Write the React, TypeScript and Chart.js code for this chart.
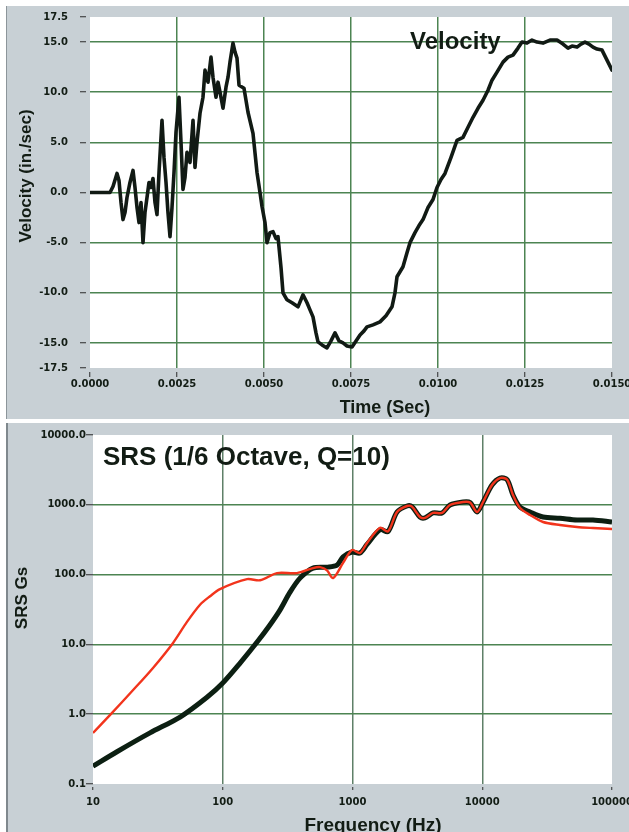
import React, { useEffect, useRef } from "react";
import { Chart, registerables } from "chart.js";

Chart.register(...registerables);

// ---------------- Top chart: velocity vs time ----------------
const TIME_S = [
  0, 0.000575, 0.000661, 0.000776, 0.000833, 0.000891, 0.000948, 0.001006, 0.001063, 0.001149,
  0.001236, 0.001293, 0.001351, 0.001408, 0.001466, 0.001523, 0.00158, 0.001638, 0.001695, 0.001753,
  0.00181, 0.001868, 0.001925, 0.001983, 0.002069, 0.002126, 0.002184, 0.002241, 0.002299, 0.002356,
  0.002414, 0.002471, 0.002557, 0.002615, 0.002672, 0.00273, 0.002787, 0.002874, 0.00296, 0.003017,
  0.003075, 0.003161, 0.003247, 0.003305, 0.003391, 0.003477, 0.003534, 0.003621, 0.003678, 0.003736,
  0.003822, 0.003908, 0.003966, 0.004023, 0.004109, 0.004167, 0.004224, 0.004282, 0.004425, 0.00454,
  0.004684, 0.004799, 0.004885, 0.004943, 0.005029, 0.005086, 0.005172, 0.005259, 0.005345, 0.005402,
  0.005489, 0.005546, 0.005661, 0.005805, 0.005977, 0.006121, 0.006236, 0.006322, 0.006408, 0.006494,
  0.006552, 0.006667, 0.00681, 0.006925, 0.00704, 0.007155, 0.00727, 0.007385, 0.007529, 0.007644,
  0.007759, 0.007874, 0.00796, 0.008132, 0.008333, 0.008506, 0.008678, 0.008764, 0.008822, 0.008994,
  0.009109, 0.009195, 0.009339, 0.009454, 0.009569, 0.009713, 0.009856, 0.009971, 0.010086, 0.010201,
  0.010374, 0.010546, 0.010718, 0.010862, 0.011006, 0.011149, 0.011293, 0.011437, 0.011552, 0.011695,
  0.011868, 0.012011, 0.012155, 0.012299, 0.012414, 0.012557, 0.012701, 0.012845, 0.013017, 0.013218,
  0.01342, 0.013592, 0.013736, 0.013851, 0.013994, 0.014109, 0.014224, 0.014339, 0.014454, 0.014569,
  0.014713, 0.014799, 0.014856, 0.014943, 0.015,
];
const VELOCITY_IPS = [
  0, 0, 0.6, 1.9, 1.2, -1.0, -2.7, -2.0, -0.5, 1.0,
  2.2, 0.5, -1.5, -3.0, -1.0, -5.0, -2.0, -0.5, 1.0, 0.5,
  1.4, -1.0, -2.2, 2.0, 7.2, 3.5, 1.0, -2.0, -4.4, -1.5,
  2.0, 6.0, 9.5, 5.0, 0.3, 1.5, 4.0, 3.0, 7.2, 2.5,
  5.0, 7.9, 9.5, 12.2, 11.0, 13.5, 11.5, 9.5, 11.0, 10.0,
  8.4, 10.5, 11.5, 13.0, 14.9, 14.0, 13.4, 10.7, 10.4, 8.0,
  5.9, 2.0, 0.0, -1.4, -3.0, -5.0, -4.0, -3.9, -4.6, -4.4,
  -7.5, -10.0, -10.7, -11.0, -11.4, -10.2, -11.0, -11.7, -12.4, -14.0,
  -14.9, -15.2, -15.5, -14.8, -14.0, -14.8, -15.0, -15.3, -15.4, -14.8,
  -14.2, -13.8, -13.4, -13.2, -12.9, -12.3, -11.4, -10.0, -8.4, -7.4,
  -6.0, -5.0, -4.0, -3.3, -2.7, -1.5, -0.7, 0.5, 1.3, 1.9,
  3.5, 5.2, 5.5, 6.5, 7.5, 8.4, 9.2, 10.2, 11.2, 12.0,
  13.0, 13.5, 13.7, 14.4, 15.0, 14.9, 15.2, 15.0, 14.9, 15.2,
  15.2, 14.8, 14.4, 14.6, 14.5, 14.8, 15.0, 14.8, 14.5, 14.3,
  14.2, 13.6, 13.2, 12.6, 12.2,
];
const VEL_Y_TICKS = [-17.5, -15, -10, -5, 0, 5, 10, 15, 17.5];
const TIME_X_TICKS = [0, 0.0025, 0.005, 0.0075, 0.01, 0.0125, 0.015];

// ---------------- Bottom chart: SRS ----------------
const FREQ_BLACK_HZ = [
  10, 15.3, 27.5, 46.9, 75.6, 100, 136, 184, 231, 276,
  330, 394, 496, 636, 760, 846, 991, 1142, 1294, 1630,
  1879, 2204, 2632, 2875, 3312, 3620, 4170, 4895, 5640, 7110,
  8050, 9120, 10150, 11890, 13710, 15520, 17260, 19550, 23350, 29400,
  39720, 53700, 71400, 100000,
];
const SRS_BLACK_G = [
  0.18, 0.29, 0.54, 0.91, 1.75, 2.8, 5.4, 10.8, 19, 31,
  56, 89, 124, 128, 137, 180, 211, 204, 270, 440,
  415, 789, 961, 940, 668, 650, 764, 764, 993, 1097,
  1080, 789, 1097, 1923, 2420, 2300, 1380, 929, 789, 668,
  640, 605, 605, 567,
];
const FREQ_RED_HZ = [
  10, 13.5, 20.3, 29, 41.4, 53, 66.8, 79.8, 95.2, 154,
  194, 262, 373, 496, 562, 636, 708, 846, 991, 1142,
  1294, 1630, 1879, 2204, 2632, 2875, 3312, 3620, 4170, 4895,
  5640, 7110, 8050, 9120, 10150, 11890, 13710, 15520, 17260, 19550,
  23350, 29400, 39720, 53700, 71400, 100000,
];
const SRS_RED_G = [
  0.54, 0.97, 2.2, 4.6, 10.5, 21, 37, 49, 62, 86,
  83, 105, 105, 124, 128, 115, 89, 147, 225, 204,
  284, 470, 415, 789, 961, 940, 668, 650, 764, 764,
  993, 1097, 1080, 789, 1097, 1923, 2420, 2300, 1380, 900,
  715, 567, 513, 481, 465, 450,
];
const SRS_Y_TICKS = [0.1, 1, 10, 100, 1000, 10000];
const FREQ_X_TICKS = [10, 100, 1000, 10000, 100000];

// ---------------- Text ----------------
const VEL_Y_TITLE = "Velocity (in./sec)";
const TIME_TITLE = "Time (Sec)";
const VEL_LABEL = "Velocity";
const SRS_TITLE = "SRS (1/6 Octave, Q=10)";
const SRS_Y_TITLE = "SRS Gs";
const FREQ_TITLE = "Frequency (Hz)";

// ---------------- Styles ----------------
const PANEL = "#c8d0d5";
const GRID_GREEN = "#4d8452";
const GRID_GREY_GREEN = "#5f8068";
const TEXT = "#121c14";
const TICK_FONT = { family: "'DejaVu Sans', sans-serif", size: 10, weight: "bold" as const };
const TITLE_FAMILY = "'Liberation Sans', Arial, sans-serif";

const toPoints = (xs: number[], ys: number[]) => {
  const n = Math.min(xs.length, ys.length);
  const out: { x: number; y: number }[] = [];
  for (let i = 0; i < n; i++) out.push({ x: xs[i], y: ys[i] });
  return out;
};

const edgeAware = (ticks: number[], color: string) => (ctx: any) => {
  const v = ctx.tick ? ctx.tick.value : undefined;
  if (v === ticks[0] || v === ticks[ticks.length - 1]) return "rgba(0,0,0,0)";
  return color;
};

const plotBg = {
  id: "plotBg",
  beforeDraw(chart: any) {
    const { ctx, chartArea } = chart;
    ctx.save();
    ctx.fillStyle = "#ffffff";
    ctx.fillRect(chartArea.left, chartArea.top, chartArea.right - chartArea.left, chartArea.bottom - chartArea.top);
    ctx.restore();
  },
};

type TextItem = {
  text: string;
  x: number;
  y: number;
  font: string;
  align: CanvasTextAlign;
  baseline: CanvasTextBaseline;
  rotate?: number;
};

const makeTexts = (id: string, items: TextItem[]) => ({
  id,
  afterDraw(chart: any) {
    const ctx = chart.ctx;
    items.forEach((it) => {
      ctx.save();
      ctx.font = it.font;
      ctx.fillStyle = TEXT;
      ctx.textAlign = it.align;
      ctx.textBaseline = it.baseline;
      ctx.translate(it.x, it.y);
      if (it.rotate) ctx.rotate(it.rotate);
      ctx.fillText(it.text, 0, 0);
      ctx.restore();
    });
  },
});

export default function App() {
  const topRef = useRef<HTMLCanvasElement>(null);
  const botRef = useRef<HTMLCanvasElement>(null);

  useEffect(() => {
    const topChart = new Chart(topRef.current as HTMLCanvasElement, {
      type: "line",
      data: {
        datasets: [
          {
            data: toPoints(TIME_S, VELOCITY_IPS),
            borderColor: "#111a14",
            borderWidth: 3.6,
            pointRadius: 0,
            tension: 0,
            borderJoinStyle: "round",
            borderCapStyle: "round",
            fill: false,
          },
        ],
      },
      options: {
        responsive: false,
        maintainAspectRatio: false,
        animation: false,
        devicePixelRatio: 1,
        layout: { padding: { left: 0, top: 11, right: 17, bottom: 0 } },
        plugins: { legend: { display: false }, tooltip: { enabled: false }, title: { display: false } },
        scales: {
          x: {
            type: "linear",
            min: 0,
            max: 0.015,
            afterBuildTicks: (axis: any) => {
              axis.ticks = TIME_X_TICKS.map((v) => ({ value: v }));
            },
            afterFit: (s: any) => {
              s.height = 51;
              s.paddingLeft = 0;
              s.paddingRight = 0;
            },
            border: { display: false },
            grid: {
              color: edgeAware(TIME_X_TICKS, GRID_GREEN),
              lineWidth: 1.5,
              tickLength: 9,
              tickColor: "#2b2b2b",
              tickWidth: 1,
              tickBorderDash: [5, 4],
              tickBorderDashOffset: 5,
            },
            ticks: {
              autoSkip: false,
              maxRotation: 0,
              minRotation: 0,
              padding: 1,
              color: TEXT,
              font: TICK_FONT,
              callback: (v: any) => Number(v).toFixed(4),
            },
          },
          y: {
            type: "linear",
            min: -17.5,
            max: 17.5,
            afterBuildTicks: (axis: any) => {
              axis.ticks = VEL_Y_TICKS.map((v) => ({ value: v }));
            },
            afterFit: (s: any) => {
              s.width = 83;
              s.paddingTop = 0;
              s.paddingBottom = 0;
            },
            border: { display: false },
            grid: {
              color: edgeAware(VEL_Y_TICKS, GRID_GREEN),
              lineWidth: 1.5,
              tickLength: 10,
              tickColor: "#2b2b2b",
              tickWidth: 1,
              tickBorderDash: [6, 4],
            },
            ticks: {
              autoSkip: false,
              padding: 12,
              color: TEXT,
              font: TICK_FONT,
              callback: (v: any) => Number(v).toFixed(1),
            },
          },
        },
      },
      plugins: [
        plotBg,
        makeTexts("topTexts", [
          { text: VEL_Y_TITLE, x: 19, y: 170, font: `bold 17px ${TITLE_FAMILY}`, align: "center", baseline: "middle", rotate: -Math.PI / 2 },
          { text: TIME_TITLE, x: 378, y: 407, font: `bold 18px ${TITLE_FAMILY}`, align: "center", baseline: "alphabetic" },
          { text: VEL_LABEL, x: 403, y: 43, font: `bold 24px ${TITLE_FAMILY}`, align: "left", baseline: "alphabetic" },
        ]),
      ],
    } as any);

    const botChart = new Chart(botRef.current as HTMLCanvasElement, {
      type: "line",
      data: {
        datasets: [
          {
            data: toPoints(FREQ_RED_HZ, SRS_RED_G),
            borderColor: "#f2341c",
            borderWidth: 2.4,
            pointRadius: 0,
            tension: 0.3,
            borderJoinStyle: "round",
            fill: false,
          },
          {
            data: toPoints(FREQ_BLACK_HZ, SRS_BLACK_G),
            borderColor: "#0c1f12",
            borderWidth: 5,
            pointRadius: 0,
            tension: 0.3,
            borderJoinStyle: "round",
            fill: false,
          },
        ],
      },
      options: {
        responsive: false,
        maintainAspectRatio: false,
        animation: false,
        devicePixelRatio: 1,
        layout: { padding: { left: 0, top: 12, right: 17, bottom: 0 } },
        plugins: { legend: { display: false }, tooltip: { enabled: false }, title: { display: false } },
        scales: {
          x: {
            type: "logarithmic",
            min: 10,
            max: 100000,
            afterBuildTicks: (axis: any) => {
              axis.ticks = FREQ_X_TICKS.map((v) => ({ value: v }));
            },
            afterFit: (s: any) => {
              s.height = 48;
              s.paddingLeft = 0;
              s.paddingRight = 0;
            },
            border: { display: false },
            grid: {
              color: edgeAware(FREQ_X_TICKS, GRID_GREY_GREEN),
              lineWidth: 1.5,
              tickLength: 6,
              tickColor: "#2b2b2b",
              tickWidth: 1,
              tickBorderDash: [3, 3],
              tickBorderDashOffset: 3,
            },
            ticks: {
              autoSkip: false,
              maxRotation: 0,
              minRotation: 0,
              padding: 6,
              color: TEXT,
              font: TICK_FONT,
              callback: (v: any) => String(Math.round(Number(v))),
            },
          },
          y: {
            type: "logarithmic",
            min: 0.1,
            max: 10000,
            afterBuildTicks: (axis: any) => {
              axis.ticks = SRS_Y_TICKS.map((v) => ({ value: v }));
            },
            afterFit: (s: any) => {
              s.width = 85;
              s.paddingTop = 0;
              s.paddingBottom = 0;
            },
            border: { display: false },
            grid: {
              color: edgeAware(SRS_Y_TICKS, GRID_GREEN),
              lineWidth: 1.5,
              tickLength: 7,
              tickColor: "#2b2b2b",
              tickWidth: 1,
            },
            ticks: {
              autoSkip: false,
              padding: 0,
              color: TEXT,
              font: TICK_FONT,
              callback: (v: any) => Number(v).toFixed(1),
            },
          },
        },
      },
      plugins: [
        plotBg,
        makeTexts("botTexts", [
          { text: SRS_TITLE, x: 95, y: 42, font: `bold 26px ${TITLE_FAMILY}`, align: "left", baseline: "alphabetic" },
          { text: SRS_Y_TITLE, x: 14, y: 175, font: `bold 17px ${TITLE_FAMILY}`, align: "center", baseline: "middle", rotate: -Math.PI / 2 },
          { text: FREQ_TITLE, x: 365, y: 408, font: `bold 19px ${TITLE_FAMILY}`, align: "center", baseline: "alphabetic" },
        ]),
      ],
    } as any);

    return () => {
      topChart.destroy();
      botChart.destroy();
    };
  }, []);

  return (
    <div style={{ position: "absolute", left: 0, top: 0, width: 629, height: 832, background: "#ffffff", overflow: "hidden" }}>
      <div style={{ position: "absolute", left: 6, top: 6, width: 622, height: 413, background: PANEL, borderLeft: "1px solid #8c959a" }}>
        <canvas ref={topRef} width={622} height={413} style={{ display: "block", width: 622, height: 413 }} />
      </div>
      <div style={{ position: "absolute", left: 6, top: 423, width: 621, height: 409, background: PANEL, borderLeft: "2px solid #7f888d" }}>
        <canvas ref={botRef} width={621} height={409} style={{ display: "block", width: 621, height: 409 }} />
      </div>
    </div>
  );
}
